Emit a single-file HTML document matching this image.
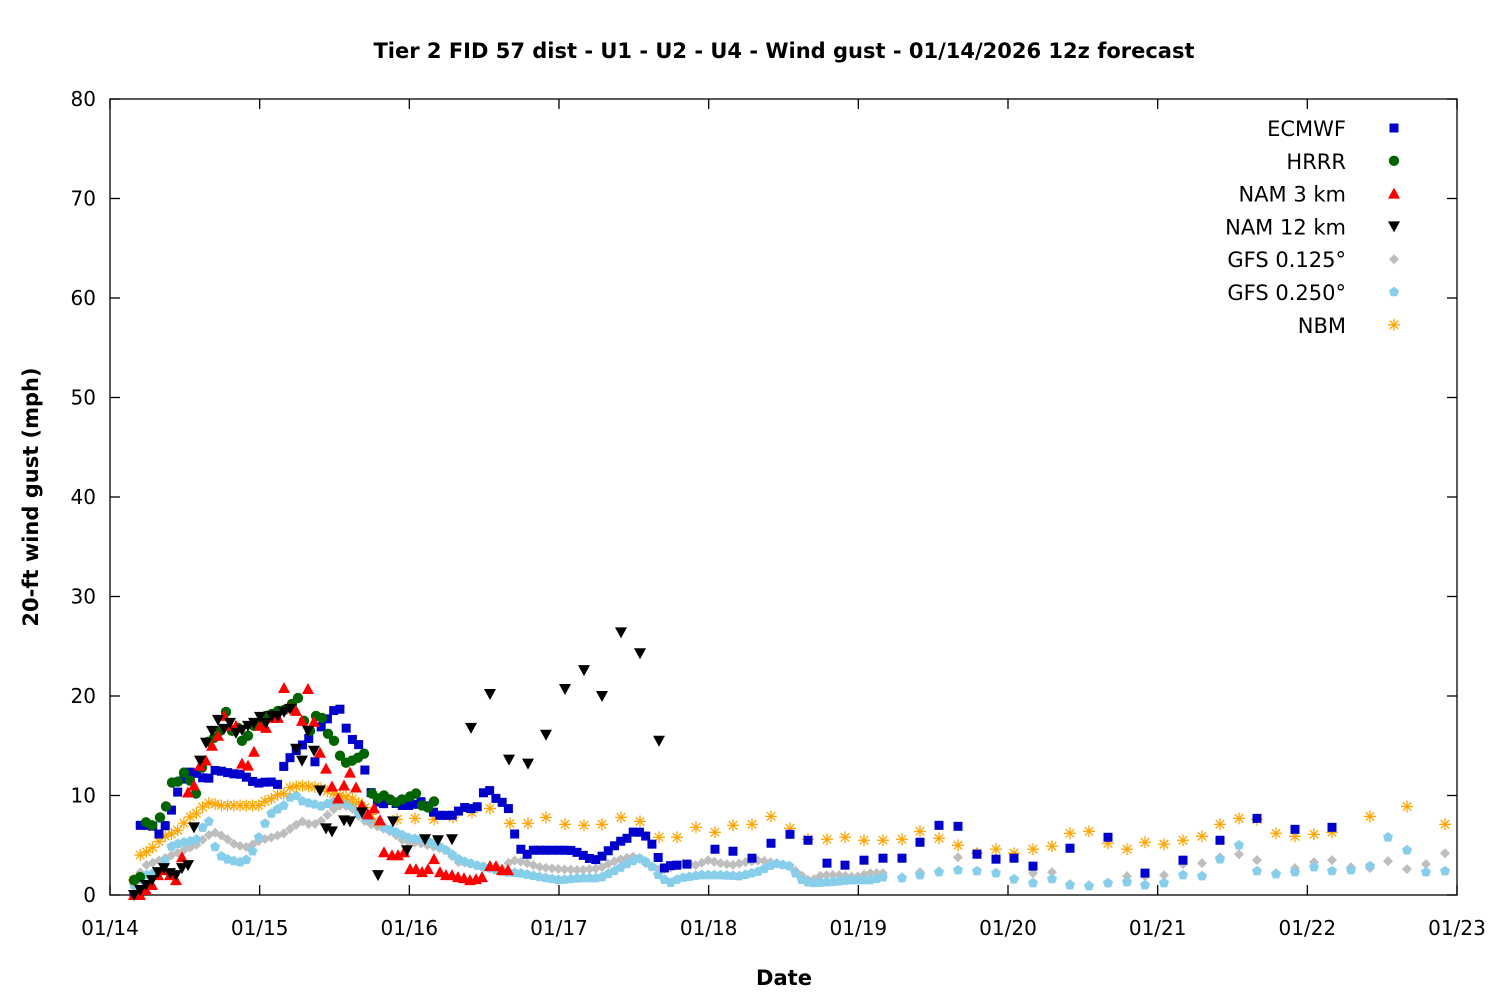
<!DOCTYPE html>
<html><head><meta charset="utf-8"><style>
body{margin:0;background:#fff;}
svg{display:block;font-family:"DejaVu Sans","Liberation Sans",sans-serif;}
</style></head><body>
<svg id="c" width="1500" height="1000" viewBox="0 0 1500 1000" xmlns="http://www.w3.org/2000/svg">
<rect width="1500" height="1000" fill="#fff"/>
<text x="784" y="58" text-anchor="middle" font-size="21" font-weight="bold">Tier 2 FID 57 dist - U1 - U2 - U4 - Wind gust - 01/14/2026 12z forecast</text>
<text x="784" y="985" text-anchor="middle" font-size="21" font-weight="bold">Date</text>
<text transform="translate(38,497) rotate(-90)" text-anchor="middle" font-size="21" font-weight="bold">20-ft wind gust (mph)</text>
<g id="ax" stroke="#000" stroke-width="1.3" fill="none"></g>
<g id="lab" font-size="20"></g>
<g id="pts"></g>
<g id="leg" font-size="21"></g>
</svg>
<script>
const NS="http://www.w3.org/2000/svg";
const X0=110,X1=1457,Y0=895,Y1=99;
const Y=v=>Y0-v*(Y0-Y1)/80;
function el(p,t,a,txt){const e=document.createElementNS(NS,t);for(const k in a)e.setAttribute(k,a[k]);if(txt!=null)e.textContent=txt;p.appendChild(e);return e;}
const ax=document.getElementById('ax'),lab=document.getElementById('lab'),pts=document.getElementById('pts'),leg=document.getElementById('leg');
el(ax,'rect',{x:X0,y:Y1,width:X1-X0,height:Y0-Y1});
for(let v=0;v<=80;v+=10){const y=Y(v);el(ax,'line',{x1:X0,y1:y,x2:X0+10,y2:y});el(ax,'line',{x1:X1,y1:y,x2:X1-10,y2:y});
el(lab,'text',{x:96,y:y+7,'text-anchor':'end'},String(v));}
const days=['01/14','01/15','01/16','01/17','01/18','01/19','01/20','01/21','01/22','01/23'];
days.forEach((d,i)=>{const x=X0+i*(X1-X0)/9;el(ax,'line',{x1:x,y1:Y0,x2:x,y2:Y0-10});el(ax,'line',{x1:x,y1:Y1,x2:x,y2:Y1+10});
el(lab,'text',{x:x,y:935,'text-anchor':'middle'},d);});
function interp(k,step){const out=[];for(let x=k[0][0];x<=k[k.length-1][0]+0.01;x+=step){let i=0;while(i<k.length-2&&k[i+1][0]<x)i++;const a=k[i],b=k[i+1]||a;const t=b[0]===a[0]?0:(x-a[0])/(b[0]-a[0]);out.push([x,a[1]+(b[1]-a[1])*t]);}return out;}
function mark(p,type,x,y){
 if(type==='sq')el(p,'rect',{x:x-4.5,y:y-4.5,width:9,height:9,fill:'#0000cc'});
 else if(type==='ci')el(p,'circle',{cx:x,cy:y,r:5.2,fill:'#006400'});
 else if(type==='up')el(p,'polygon',{points:`${x},${y-6} ${x-6},${y+5} ${x+6},${y+5}`,fill:'#ff0000'});
 else if(type==='dn')el(p,'polygon',{points:`${x},${y+6} ${x-6},${y-5} ${x+6},${y-5}`,fill:'#000'});
 else if(type==='di')el(p,'polygon',{points:`${x},${y-5} ${x+5},${y} ${x},${y+5} ${x-5},${y}`,fill:'#bebebe'});
 else if(type==='pe'){let s='';for(let i=0;i<5;i++){const a=-Math.PI/2+i*2*Math.PI/5;s+=(x+5.3*Math.cos(a))+','+(y+5.3*Math.sin(a))+' ';}el(p,'polygon',{points:s,fill:'#87ceeb'});}
 else if(type==='as'){const g=el(p,'g',{stroke:'#ffa500','stroke-width':1.3});for(let i=0;i<4;i++){const a=i*Math.PI/4;el(g,'line',{x1:x-6*Math.cos(a),y1:y-6*Math.sin(a),x2:x+6*Math.cos(a),y2:y+6*Math.sin(a)});}}
}
function draw(type,list){list.forEach(([x,v])=>mark(pts,type,x,Y(v)));}
// GFS 0.125
draw('di',interp([[134,1.5],[146,3],[160,3.5],[172,4],[184,4.5],[196,5],[208,6],[216,6.3],[226,5.7],[236,5],[248,4.8],[260,5.5],[272,5.8],[284,6.2],[292,6.8],[302,7.4],[312,7.0],[322,7.5],[332,8.5],[342,9.1],[352,8.7],[360,7.8],[368,7.2],[380,6.8],[392,6.3],[404,5.4],[420,5.2],[432,4.9],[446,4.5],[458,3.3],[470,3.2],[482,2.8],[500,2.5],[512,3.5],[524,3.3],[540,2.8],[560,2.6],[580,2.5],[600,2.7],[612,3.3],[624,3.7],[636,3.9],[648,3],[660,2.5],[672,2.8],[684,3.2],[696,3],[708,3.5],[720,3.2],[732,3],[745,3.3],[760,3.5],[775,3.2],[790,2.9],[798,2.2],[810,1.4],[822,2],[840,2],[855,1.8],[870,2.2],[884,2.2]],6.24));
draw('di',[[902,1.8],[920,2.3],[939,2.4],[958,3.8],[977,4.3],[996,3.7],[1014,1.6],[1033,2.2],[1052,2.3],[1070,1.1],[1089,1.0],[1108,1.2],[1127,1.9],[1145,1.9],[1164,2.0],[1183,3.1],[1202,3.2],[1220,3.8],[1239,4.1],[1257,3.5],[1276,2.2],[1295,2.7],[1314,3.3],[1332,3.5],[1351,2.8],[1370,2.7],[1388,3.4],[1407,2.6],[1426,3.1],[1445,4.2]]);
// GFS 0.25
draw('pe',interp([[134,1],[146,2],[160,2.3],[172,5],[184,5.3],[196,5.5],[208,7.8],[214,5],[222,3.8],[230,3.5],[240,3.3],[248,3.6],[256,5],[262,6.7],[272,8.3],[284,9],[290,9.8],[296,10],[304,9.3],[312,9.2],[322,8.9],[330,9.3],[340,9.5],[352,9],[360,8],[372,7.5],[384,6.8],[396,6.3],[410,5.7],[424,5.6],[432,5.3],[446,4.5],[460,3.5],[476,3],[490,2.7],[504,2.3],[520,2.2],[540,1.8],[560,1.5],[580,1.7],[600,1.7],[616,2.5],[630,3.3],[640,3.7],[650,3.1],[660,1.8],[670,1.2],[680,1.7],[700,2],[720,2],[740,1.9],[760,2.4],[775,3.2],[790,2.9],[800,1.6],[810,1.2],[830,1.3],[850,1.5],[870,1.5],[884,1.8]],6.24));
draw('pe',[[902,1.7],[920,2.0],[939,2.3],[958,2.5],[977,2.4],[996,2.2],[1014,1.6],[1033,1.2],[1052,1.6],[1070,1.0],[1089,0.9],[1108,1.2],[1127,1.3],[1145,1.0],[1164,1.2],[1183,2.0],[1202,1.9],[1220,3.6],[1239,5.0],[1257,2.4],[1276,2.1],[1295,2.3],[1314,2.8],[1332,2.4],[1351,2.5],[1370,2.9],[1388,5.8],[1407,4.5],[1426,2.3],[1445,2.4]]);
// NBM
draw('as',interp([[134,1.5],[140,4],[146,4.3],[152,4.7],[158,5.3],[166,6],[174,6.2],[180,6.7],[186,7.5],[192,8],[198,8.3],[204,9],[210,9.3],[220,9],[260,9],[266,9.5],[272,9.7],[278,10.1],[284,10.2],[290,10.8],[300,11],[320,10.8],[330,10.3],[340,10],[350,9.8],[358,9.3],[366,8.7],[372,8]],6.24));
draw('as',[[378,7.3],[397,7.6],[415,7.7],[434,7.6],[453,7.8],[472,8.3],[490,8.7],[510,7.2],[528,7.2],[546,7.8],[565,7.1],[584,7.0],[602,7.1],[621,7.8],[640,7.4],[659,5.8],[677,5.8],[696,6.8],[715,6.3],[733,7.0],[752,7.1],[771,7.9],[790,6.7],[808,5.6],[827,5.6],[845,5.8],[864,5.5],[883,5.5],[902,5.6],[920,6.4],[939,5.7],[958,5.0],[977,4.2],[996,4.6],[1014,4.2],[1033,4.6],[1052,4.9],[1070,6.2],[1089,6.4],[1108,5.2],[1127,4.6],[1145,5.3],[1164,5.1],[1183,5.5],[1202,5.9],[1220,7.1],[1239,7.7],[1257,7.6],[1276,6.2],[1295,5.9],[1314,6.1],[1332,6.3],[1370,7.9],[1407,8.9],[1445,7.1]]);
// ECMWF
draw('sq',interp([[134,0],[140,7],[152,7],[160,6],[168,7.5],[174,9.3],[180,11],[186,12],[192,12.5],[200,12],[206,11.5],[212,12],[218,13],[224,12],[230,12.5],[236,12],[242,12.2],[248,11.7],[256,11.2],[262,11.3],[270,11.4],[278,11.1],[284,13],[290,13.8],[296,14.5],[302,15],[308,16],[316,13],[322,17.5],[330,17.8],[336,19],[342,18.5],[348,16],[354,15.5],[360,15],[366,12],[372,10],[380,9],[390,9.5],[400,9],[412,9],[424,9.5],[430,8.5],[440,8],[452,8],[464,8.8],[476,8.6],[484,10.4],[490,10.5],[496,9.7],[504,9.2],[510,8.5],[514,6.3],[520,4.7],[526,4],[532,4.5],[570,4.5],[580,4.2],[586,3.8],[594,3.5],[600,3.7],[606,4.3],[612,4.7],[618,5.3],[626,5.6],[634,6.4],[640,6.3],[646,5.9],[652,5.1],[658,3.8],[664,2.7],[672,3],[680,3]],6.24));
draw('sq',[[687,3.1],[715,4.6],[733,4.4],[752,3.7],[771,5.2],[790,6.1],[808,5.5],[827,3.2],[845,3.0],[864,3.5],[883,3.7],[902,3.7],[920,5.3],[939,7.0],[958,6.9],[977,4.1],[996,3.6],[1014,3.7],[1033,2.9],[1070,4.7],[1108,5.8],[1145,2.2],[1183,3.5],[1220,5.5],[1257,7.7],[1295,6.6],[1332,6.8]]);
// HRRR
draw('ci',[[134,1.5],[140,1.8],[146,7.3],[152,7],[160,7.8],[166,8.9],[172,11.3],[178,11.4],[184,12.3],[190,11.5],[196,10.2],[202,12.8],[208,15.4],[214,15.8],[220,16.5],[226,18.4],[232,16.5],[238,16.8],[242,15.5],[248,16],[254,17],[260,17.3],[266,18],[272,18.2],[278,18.5],[284,18.6],[292,19.2],[298,19.8],[304,17.5],[310,16.5],[316,18],[322,17.8],[328,16.2],[334,15.5],[340,14],[346,13.3],[352,13.5],[358,13.8],[364,14.2],[372,10.2],[378,9.7],[384,10],[390,9.6],[396,9.3],[402,9.6],[410,9.9],[416,10.2],[422,9],[428,8.8],[434,9.4]]);
// NAM 3km
draw('up',[[134,0],[140,0],[146,0.5],[152,1],[158,2],[164,2.5],[170,2],[176,1.5],[182,3.8],[188,10.3],[194,11],[200,13],[206,13.5],[212,15],[218,16],[224,18],[230,17],[236,17],[242,13.2],[248,13],[254,14.4],[260,17],[266,16.8],[272,17.8],[278,17.8],[284,20.8],[290,18.8],[296,18.5],[302,17.5],[308,20.7],[314,17.4],[320,14.3],[326,12.7],[332,10.9],[338,9.7],[344,11],[350,12.3],[356,10.8],[362,9],[368,8.1],[374,8.7],[380,7.5],[384,4.3],[392,4],[398,4],[404,4.3],[410,2.6],[416,2.6],[422,2.3],[428,2.6],[434,3.6],[440,2.3],[446,2.0],[452,2.0],[458,1.8],[464,1.7],[470,1.5],[476,1.6],[482,1.8],[490,2.9],[496,2.9],[502,2.5],[508,2.5]]);
// NAM 12km
draw('dn',[[134,0],[140,0.5],[146,1],[152,1.5],[158,2.3],[164,2.7],[170,2.2],[176,2],[182,2.7],[188,3],[194,6.8],[200,13.5],[206,15.3],[212,16.5],[218,17.6],[224,16.7],[230,17.3],[236,16.3],[242,16.6],[248,17],[254,17.3],[260,17.9],[266,17.3],[272,18],[278,18],[284,18.4],[290,18.7],[296,14.7],[302,13.5],[308,16.5],[314,14.5],[320,10.5],[326,6.7],[332,6.4],[344,7.5],[350,7.4],[362,8.3],[378,2],[393,7.4],[407,4.5],[425,5.6],[438,5.5],[452,5.6],[471,16.8],[490,20.2],[509,13.6],[528,13.2],[546,16.1],[565,20.7],[584,22.6],[602,20],[621,26.4],[640,24.3],[659,15.5]]);
// legend
const L=[['ECMWF','sq'],['HRRR','ci'],['NAM 3 km','up'],['NAM 12 km','dn'],['GFS 0.125°','di'],['GFS 0.250°','pe'],['NBM','as']];
L.forEach(([t,m],i)=>{const y=128+i*32.8;el(leg,'text',{x:1346,y:y+8,'text-anchor':'end'},t);mark(leg,m,1394,y);});
</script>
</body></html>
